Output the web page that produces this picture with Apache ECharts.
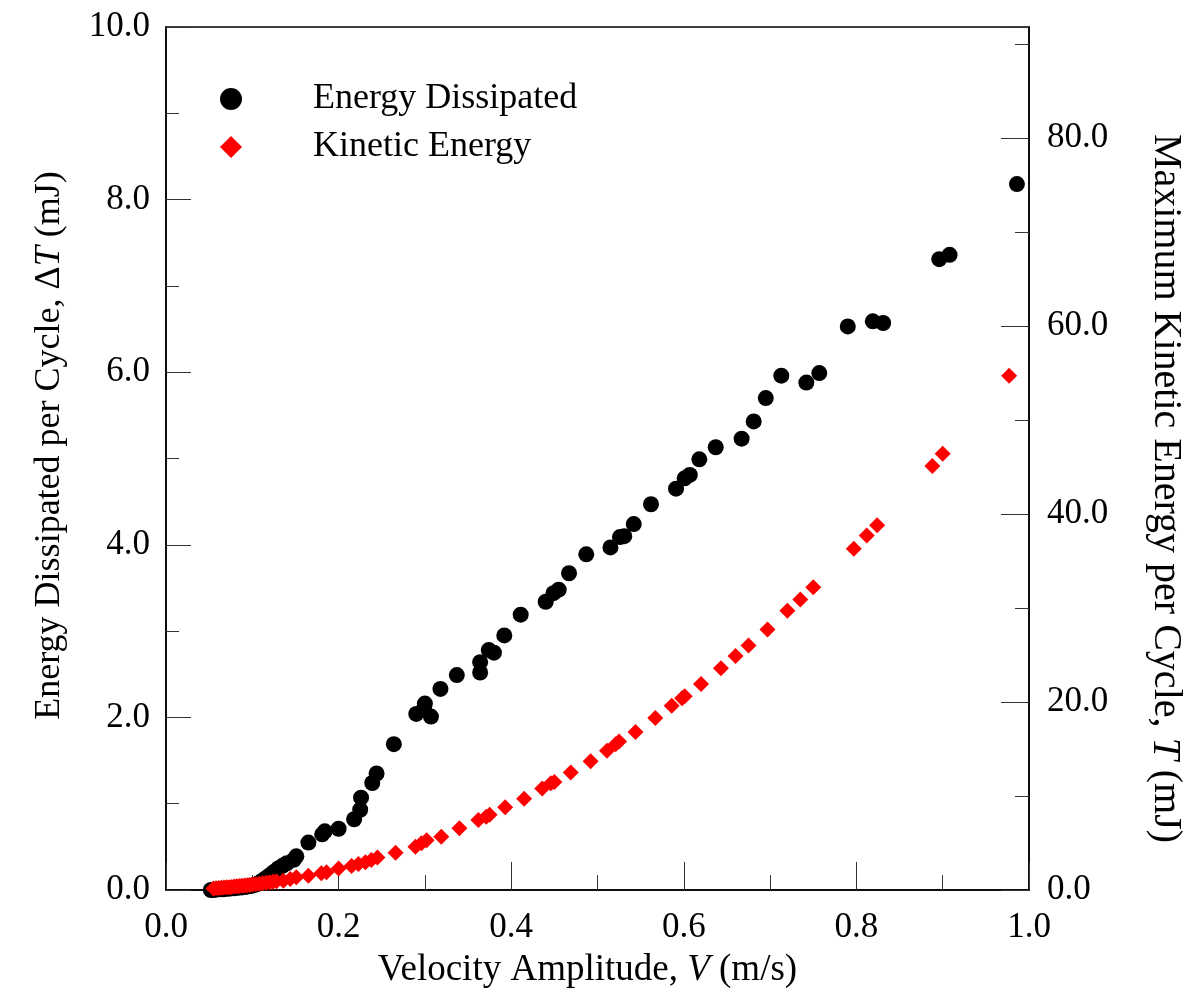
<!DOCTYPE html>
<html lang="en">
<head>
    <meta charset="UTF-8">
    <title>Energy Dissipated vs Velocity Amplitude</title>
    <script src="https://cdn.jsdelivr.net/npm/echarts@6/dist/echarts.min.js"></script>
    <style>
        html, body { margin: 0; padding: 0; background: #fff; }
        #main { width: 1185px; height: 995px; }
    </style>
</head>
<body>
<div id="main"></div>
<script type="text/javascript">
    // energy dissipated per cycle (left axis, mJ)
    var velDissipated = [0.052, 0.055, 0.058, 0.061, 0.064, 0.067, 0.070, 0.073, 0.076, 0.079,
        0.082, 0.085, 0.088, 0.091, 0.094, 0.097, 0.100, 0.103, 0.106, 0.109,
        0.112, 0.116, 0.120, 0.125, 0.130, 0.135, 0.140, 0.148, 0.151, 0.165,
        0.181, 0.184, 0.200, 0.218, 0.225, 0.226, 0.239, 0.244, 0.264, 0.290,
        0.299, 0.300, 0.307, 0.318, 0.337, 0.364, 0.364, 0.374, 0.380, 0.392,
        0.411, 0.440, 0.449, 0.455, 0.467, 0.487, 0.515, 0.526, 0.531, 0.542,
        0.562, 0.591, 0.601, 0.607, 0.618, 0.637, 0.667, 0.681, 0.695, 0.713,
        0.742, 0.757, 0.790, 0.819, 0.831, 0.896, 0.908, 0.986];
    var dissipated = [0.00, 0.00, 0.005, 0.01, 0.01, 0.01, 0.015, 0.015, 0.02, 0.02,
        0.025, 0.03, 0.03, 0.035, 0.04, 0.045, 0.05, 0.06, 0.07, 0.09,
        0.11, 0.14, 0.17, 0.21, 0.25, 0.28, 0.31, 0.35, 0.39, 0.55,
        0.645, 0.68, 0.71, 0.82, 0.93, 1.07, 1.24, 1.35, 1.69, 2.04,
        2.10, 2.16, 2.01, 2.33, 2.49, 2.52, 2.64, 2.78, 2.75, 2.95,
        3.19, 3.34, 3.44, 3.48, 3.67, 3.89, 3.97, 4.09, 4.10, 4.24,
        4.47, 4.65, 4.77, 4.81, 4.99, 5.13, 5.23, 5.43, 5.70, 5.96,
        5.88, 5.99, 6.53, 6.59, 6.57, 7.31, 7.36, 8.18];

    // maximum kinetic energy per cycle (right axis, mJ)
    var velKinetic = [0.055, 0.058, 0.061, 0.064, 0.067, 0.070, 0.073, 0.076, 0.079, 0.082,
        0.085, 0.088, 0.091, 0.094, 0.097, 0.100, 0.104, 0.108, 0.112, 0.116,
        0.120, 0.124, 0.128, 0.136, 0.144, 0.151, 0.165, 0.180, 0.186, 0.200,
        0.215, 0.223, 0.231, 0.238, 0.245, 0.266, 0.289, 0.296, 0.302, 0.319,
        0.340, 0.362, 0.371, 0.375, 0.393, 0.415, 0.436, 0.446, 0.450, 0.469,
        0.492, 0.511, 0.521, 0.525, 0.544, 0.567, 0.586, 0.598, 0.601, 0.620,
        0.643, 0.660, 0.675, 0.697, 0.720, 0.735, 0.750, 0.797, 0.812, 0.824,
        0.888, 0.900, 0.977];
    var kinetic = [0.17, 0.19, 0.21, 0.24, 0.26, 0.28, 0.30, 0.33, 0.36, 0.39,
        0.42, 0.45, 0.48, 0.51, 0.54, 0.58, 0.62, 0.67, 0.72, 0.77,
        0.83, 0.88, 0.94, 0.99, 1.17, 1.35, 1.52, 1.77, 1.88, 2.30,
        2.55, 2.77, 2.94, 3.19, 3.47, 3.97, 4.60, 4.96, 5.30, 5.67,
        6.56, 7.45, 7.80, 8.00, 8.80, 9.70, 10.8, 11.35, 11.5, 12.5,
        13.7, 14.8, 15.5, 15.8, 16.8, 18.3, 19.6, 20.4, 20.6, 21.9,
        23.6, 24.9, 26.0, 27.7, 29.7, 30.9, 32.2, 36.3, 37.7, 38.8,
        45.1, 46.4, 54.7];

    var serif = 'Liberation Serif';
    var fs = 35;

    function pairs(xs, ys) {
        return xs.map(function (x, i) { return [x, ys[i]]; });
    }

    // rich styles for axis titles (italic symbol in the middle)
    function titleRich(size) {
        return {
            a: {fontFamily: serif, fontSize: size, color: '#000'},
            i: {fontFamily: serif, fontSize: size, fontStyle: 'italic', color: '#000'}
        };
    }

    var chart = echarts.init(document.getElementById('main'));

    chart.setOption({
        animation: false,
        backgroundColor: '#fff',
        grid: {
            left: 166, right: 156, top: 27, bottom: 105,
            outerBoundsMode: 'none',
            containLabel: false,
            show: true, borderColor: '#000', borderWidth: 1.5
        },
        legend: {
            orient: 'vertical',
            left: 220, top: 81,
            padding: 0,
            itemWidth: 22, itemHeight: 22, itemGap: 12,
            textStyle: {fontFamily: serif, fontSize: 36, color: '#000', padding: [0, 0, 0, 66]},
            data: ['Energy Dissipated', 'Kinetic Energy']
        },
        xAxis: {
            type: 'value',
            min: 0, max: 1, interval: 0.2,
            name: '{a|Velocity Amplitude, }{i|V}{a| (m/s)}',
            nameLocation: 'middle',
            nameGap: 62,
            nameTextStyle: {rich: titleRich(37), padding: [0, 20, 0, 0]},
            axisLine: {lineStyle: {color: '#000', width: 1.5}},
            axisTick: {inside: true, length: 28, lineStyle: {color: '#333'}},
            minorTick: {show: true, splitNumber: 2, length: 15, lineStyle: {color: '#333'}},
            splitLine: {show: false},
            axisLabel: {
                fontFamily: serif, fontSize: fs, color: '#000', margin: 20,
                formatter: function (v) { return v.toFixed(1); }
            }
        },
        yAxis: [{
            type: 'value',
            position: 'left',
            min: 0, max: 10, interval: 2,
            name: '{a|Energy Dissipated per Cycle, Δ}{i|T}{a| (mJ)}',
            nameLocation: 'middle',
            nameRotate: 90,
            nameGap: 98,
            nameTextStyle: {rich: titleRich(36), padding: [0, 0, 0, 26]},
            axisLine: {show: true, lineStyle: {color: '#000', width: 1.5}},
            axisTick: {inside: true, length: 25, lineStyle: {color: '#333'}},
            minorTick: {show: true, splitNumber: 2, length: 13, lineStyle: {color: '#333'}},
            splitLine: {show: false},
            axisLabel: {
                fontFamily: serif, fontSize: fs, color: '#000', margin: 16,
                formatter: function (v) { return v.toFixed(1); }
            }
        }, {
            type: 'value',
            position: 'right',
            min: 0, max: 91.8, interval: 20,
            name: '{a|Maximum Kinetic Energy per Cycle, }{i|T}{a| (mJ)}',
            nameLocation: 'middle',
            nameRotate: -90,
            nameGap: 116,
            nameTextStyle: {rich: titleRich(40), padding: [0, 0, 0, 60]},
            axisLine: {show: true, lineStyle: {color: '#000', width: 1.5}},
            axisTick: {inside: true, length: 28, lineStyle: {color: '#333'}},
            minorTick: {show: true, splitNumber: 2, length: 14, lineStyle: {color: '#333'}},
            splitLine: {show: false},
            axisLabel: {
                fontFamily: serif, fontSize: fs, color: '#000', margin: 18,
                showMaxLabel: false,
                formatter: function (v) { return v % 20 === 0 ? v.toFixed(1) : ''; }
            }
        }],
        series: [{
            name: 'Energy Dissipated',
            type: 'scatter',
            yAxisIndex: 0,
            symbol: 'circle',
            symbolSize: 16,
            itemStyle: {color: '#000', opacity: 1},
            data: pairs(velDissipated, dissipated)
        }, {
            name: 'Kinetic Energy',
            type: 'scatter',
            yAxisIndex: 1,
            symbol: 'diamond',
            symbolSize: 16,
            itemStyle: {color: '#ff0000', opacity: 1},
            data: pairs(velKinetic, kinetic)
        }]
    });
</script>
</body>
</html>
